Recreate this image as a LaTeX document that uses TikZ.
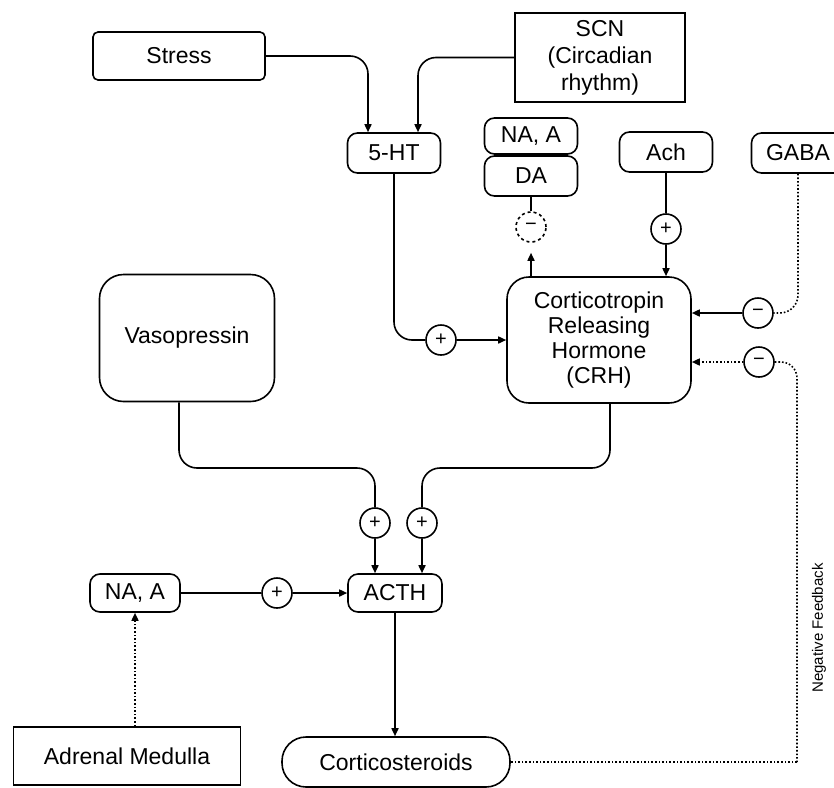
\documentclass[tikz,border=0pt]{standalone}
\usepackage{fontspec}
\setmainfont{Liberation Sans}
\usetikzlibrary{arrows.meta}
\begin{document}
\begin{tikzpicture}[x=1pt,y=-1pt,
  every node/.style={font=\fontsize{23}{25}\selectfont, align=center, inner sep=0pt},
  conn/.style={line width=1.6pt},
  arr/.style={conn, -{Triangle[length=8pt,width=7pt]}},
  sbox/.style={draw, line width=1.6pt, rounded corners=10pt, minimum width=93pt, minimum height=40pt},
  bigbox/.style={draw, line width=1.6pt, rounded corners=24pt},
  sign/.style={draw, circle, line width=1.6pt, minimum size=30pt, font=\fontsize{20}{20}\selectfont},
]
\useasboundingbox (0,0) rectangle (834,787);
\clip (0,0) rectangle (834,787);

% boxes
\node[draw, line width=1.6pt, rounded corners=5pt, minimum width=172pt, minimum height=48pt] (stress) at (179,56) {Stress};
\node[draw, line width=1.6pt, minimum width=170pt, minimum height=89pt, font=\fontsize{23}{27}\selectfont] (scn) at (600,57.5) {SCN\\(Circadian\\rhythm)};
\node[sbox] (fiveht) at (394,153) {5-HT};
\node[sbox, minimum height=36pt] (naa1) at (531,136) {NA, A};
\node[sbox] (da) at (531,176) {DA};
\node[sbox] (ach) at (666,152) {Ach};
\node[sbox] (gaba) at (798,153) {GABA};
\node[bigbox, rounded corners=22pt, minimum width=184pt, minimum height=126pt] (crh) at (599,340) {Corticotropin\\Releasing\\Hormone\\(CRH)};
\node[bigbox, minimum width=175pt, minimum height=127pt] (vaso) at (187,338) {Vasopressin};
\node[sbox, minimum width=94pt, minimum height=38pt] (acth) at (395,593) {ACTH};
\node[sbox, minimum width=90pt, minimum height=38pt] (naa2) at (135,593) {NA, A};
\node[draw, line width=1.6pt, minimum width=227pt, minimum height=58pt] (adrenal) at (127,756) {Adrenal Medulla};
\node[draw, line width=1.6pt, rounded corners=24pt, minimum width=228pt, minimum height=50pt] (cort) at (396,762) {Corticosteroids};

% sign circles
\node[sign] (c5ht) at (441,340) {+};
\node[sign, dashed] (cda) at (531,227) {−};
\node[sign] (cach) at (666,229) {+};
\node[sign] (cgaba) at (758,313) {−};
\node[sign] (cfb) at (759,362) {−};
\node[sign] (cvaso) at (375,523) {+};
\node[sign] (ccrh) at (422,523) {+};
\node[sign] (cnaa) at (277,593) {+};

% label
\node[rotate=90, font=\fontsize{15}{15}\selectfont] (fblabel) at (819,628) {Negative Feedback};

% connectors
\draw[arr, rounded corners=18pt] (stress.east) -| ([xshift=-26pt]fiveht.north);
\draw[arr, rounded corners=18pt] (scn.west) -| ([xshift=24pt]fiveht.north);
\draw[conn, rounded corners=18pt] (fiveht.south) |- (c5ht.west);
\draw[arr] (c5ht.east) -- (crh.west |- c5ht);

\draw[conn] (da.south) -- (cda.north);
\draw[arr, shorten >=10pt] (crh.north -| cda) -- (cda.south);

\draw[conn] (ach.south) -- (cach.north);
\draw[arr] (cach.south) -- (crh.north -| cach);

\draw[conn, dotted, rounded corners=18pt] (gaba.south) |- (cgaba.east);
\draw[arr] (cgaba.west) -- (crh.east |- cgaba);

\coordinate (fbcorner) at (797,762);
\draw[conn, dotted, rounded corners=16pt] (cfb.east) -| (fbcorner);
\draw[conn, dotted] (fbcorner) -- (cort.east);
\draw[arr, dotted] (cfb.west) -- (crh.east |- cfb);

\draw[conn, rounded corners=18pt] ([xshift=-8pt]vaso.south) -- (179,468) -- (375,468) -- (cvaso.north);
\draw[conn, rounded corners=18pt] ([xshift=11pt]crh.south) -- (610,468) -- (422,468) -- (ccrh.north);
\draw[arr] (cvaso.south) -- (cvaso |- acth.north);
\draw[arr] (ccrh.south) -- (ccrh |- acth.north);

\draw[conn] (naa2.east) -- (cnaa.west);
\draw[arr] (cnaa.east) -- (acth.west);
\draw[arr, dotted] (adrenal.north -| naa2) -- (naa2.south);
\draw[arr] (acth.south) -- (acth.south |- cort.north);
\end{tikzpicture}
\end{document}
